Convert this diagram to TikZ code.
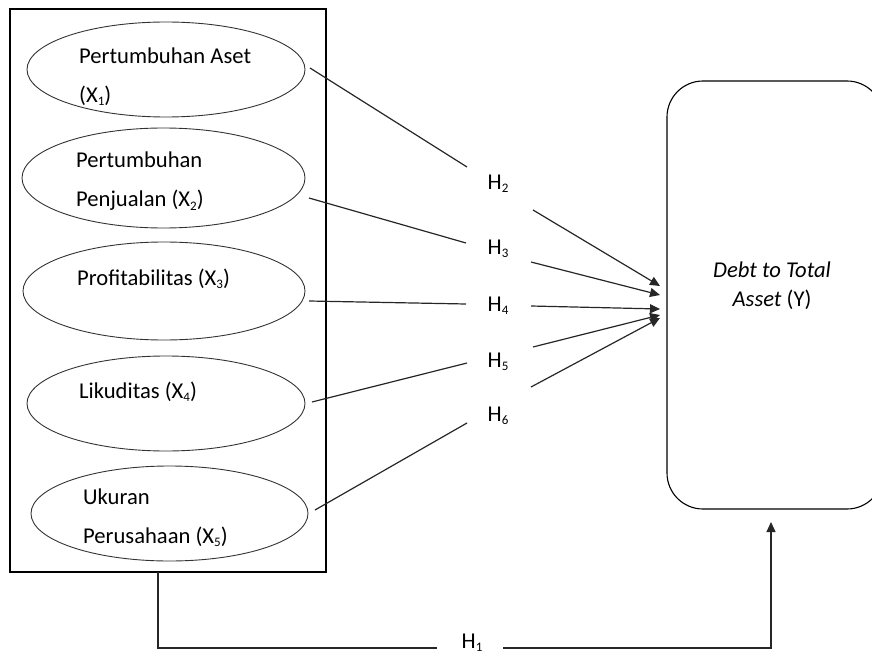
\documentclass[tikz,border=0pt]{standalone}
\usepackage{fontspec}
\setmainfont{Carlito}
\usetikzlibrary{shapes.geometric,arrows.meta}
\newcommand{\sbx}[1]{\raisebox{-0.3ex}{\fontsize{13}{13}\selectfont #1}}
\tikzset{
  ell/.style={draw=black!80, line width=0.9pt, ellipse, inner sep=0pt},
  lbl/.style={anchor=west, align=left, inner sep=0pt, font=\fontsize{22.6}{39}\selectfont},
  hl/.style={inner sep=0pt, font=\fontsize{22.6}{26}\selectfont},
  conn/.style={line width=1.2pt, draw=black!85},
  arr/.style={conn, -{Triangle[length=10pt,width=9pt]}},
}
\begin{document}
\begin{tikzpicture}[x=1pt,y=-1pt]
\useasboundingbox (0,0) rectangle (872,655);
% outer rectangle
\node[draw, line width=1.2pt, minimum width=316pt, minimum height=563pt, inner sep=0pt] (outer) at (168,290.5) {};
% ellipses
\node[ell, minimum width=278pt, minimum height=95pt] (e1) at (166,69.5) {};
\node[ell, minimum width=283pt, minimum height=100pt] (e2) at (163.5,178) {};
\node[ell, minimum width=282pt, minimum height=98pt] (e3) at (164,291) {};
\node[ell, minimum width=278pt, minimum height=95pt] (e4) at (166,403.5) {};
\node[ell, minimum width=277pt, minimum height=95pt] (e5) at (169.5,513.5) {};
% ellipse texts
\node[lbl] (t1) at (79,77) {Pertumbuhan Aset\\(X\sbx{1})};
\node[lbl] (t2) at (76,181.5) {Pertumbuhan\\Penjualan (X\sbx{2})};
\node[lbl] (t3) at (77,279) {Profitabilitas (X\sbx{3})};
\node[lbl] (t4) at (79,392) {Likuditas (X\sbx{4})};
\node[lbl] (t5) at (83,518) {Ukuran\\Perusahaan (X\sbx{5})};
% dependent box
\node[draw, line width=1.1pt, rounded corners=36pt, minimum width=216pt, minimum height=428pt, inner sep=0pt] (y) at (775,295) {};
\node[inner sep=0pt, align=center, font=\fontsize{22.6}{29}\selectfont] (ty) at (772,285.5) {\textit{Debt to Total}\\\textit{Asset} (Y)};
% H labels
\node[hl] (h2) at (498,184) {H\sbx{2}};
\node[hl] (h3) at (498,249) {H\sbx{3}};
\node[hl] (h4) at (498,306) {H\sbx{4}};
\node[hl] (h5) at (498,362) {H\sbx{5}};
\node[hl] (h6) at (498,416) {H\sbx{6}};
\node[hl] (h1) at (472,643) {H\sbx{1}};
% connector ends
\coordinate (s1) at (310,68);   \coordinate (a2) at (467,167);
\coordinate (b2) at (533,210);  \coordinate (p2) at (660,286);
\coordinate (s2) at (309,198);  \coordinate (a3) at (466,243);
\coordinate (b3) at (531,262);  \coordinate (p3) at (660,295);
\coordinate (s3) at (309,301);  \coordinate (a4) at (466,304);
\coordinate (b4) at (531,306);  \coordinate (p4) at (660,309);
\coordinate (s4) at (312,402);  \coordinate (a5) at (467,363);
\coordinate (b5) at (533,347);  \coordinate (p5) at (660,315);
\coordinate (s5) at (315,510);  \coordinate (a6) at (467,423);
\coordinate (b6) at (531,387);  \coordinate (p6) at (660,318);
\coordinate (o1) at (158,572);  \coordinate (c1) at (437,648);
\coordinate (d1) at (503,648);  \coordinate (q1) at (771,522);
% connectors
\draw[conn] (s1) -- (a2);  \draw[arr] (b2) -- (p2);
\draw[conn] (s2) -- (a3);  \draw[arr] (b3) -- (p3);
\draw[conn] (s3) -- (a4);  \draw[arr] (b4) -- (p4);
\draw[conn] (s4) -- (a5);  \draw[arr] (b5) -- (p5);
\draw[conn] (s5) -- (a6);  \draw[arr] (b6) -- (p6);
\draw[conn] (o1) |- (c1);
\draw[arr] (d1) -| (q1);
\end{tikzpicture}
\end{document}
